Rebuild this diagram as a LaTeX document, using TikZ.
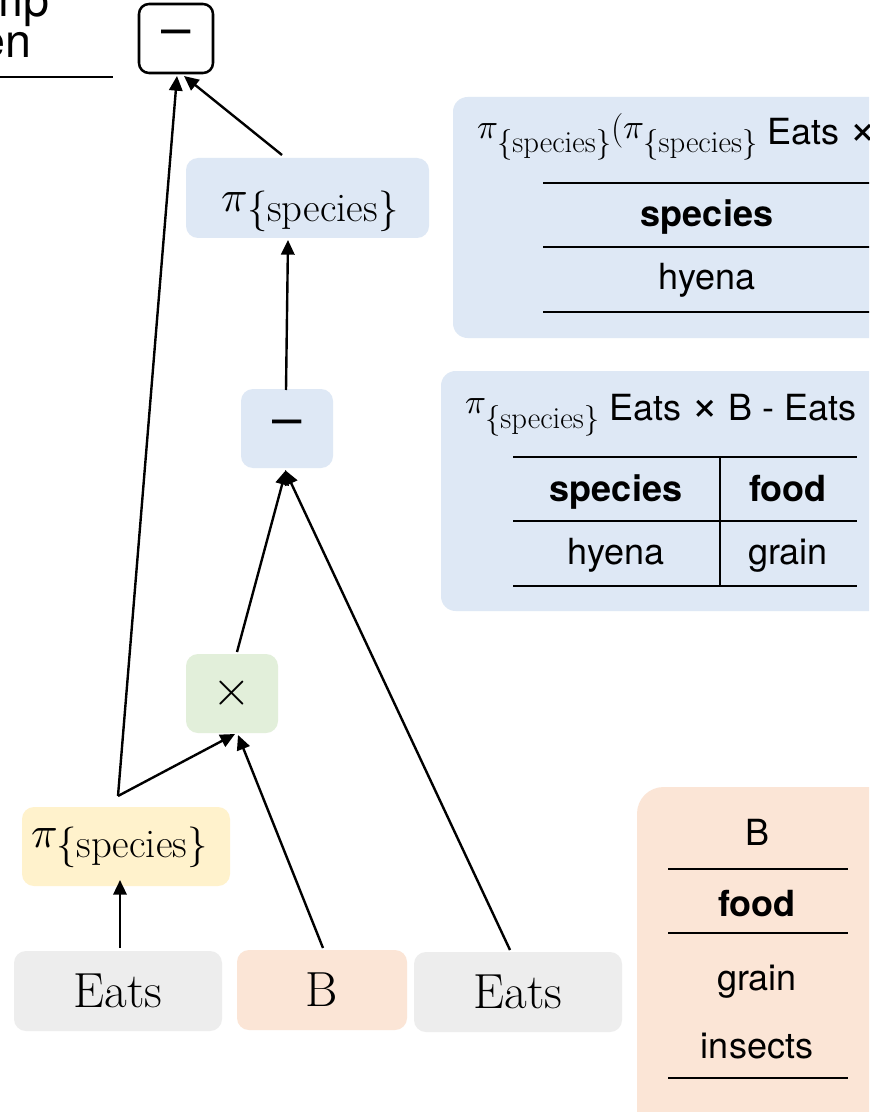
\documentclass[tikz,border=0pt]{standalone}
\usepackage{fontspec}
\newfontfamily\hv{TeX Gyre Heros}
\newfontfamily\lmmath{Latin Modern Math}
\usetikzlibrary{arrows.meta,calc}

\definecolor{opblue}{HTML}{DEE8F5}
\definecolor{opgreen}{HTML}{E2EFDA}
\definecolor{opyellow}{HTML}{FFF2CC}
\definecolor{oppeach}{HTML}{FBE5D6}
\definecolor{opgray}{HTML}{EDEDED}

% projection symbol: pi size, subscript size, pi raise, subscript drop
\newcommand\projop[4]{%
  \raisebox{#3}{\lmmath\fontsize{#1}{#1}\selectfont 𝜋}%
  \raisebox{-#4}{\rmfamily\mdseries\fontsize{#2}{#2}\selectfont\{species\}}}
\newcommand\nodeproj{\projop{33pt}{30.5pt}{0pt}{7.5pt}}
\newcommand\titleproj{\projop{26pt}{23pt}{5pt}{6pt}}
\newcommand\titleparen{\raisebox{4pt}{\rmfamily\fontsize{26pt}{26pt}\selectfont(}}
\newcommand\titletimes{\scalebox{1.3}{×}}
\newcommand\opminus{\resizebox{22pt}{!}{\hv –}}
\newcommand\optimes{\resizebox{29pt}{!}{\lmmath ×}}

\tikzset{
  opnode/.style={rounded corners=9pt, inner sep=0pt, outer sep=0pt},
  edge/.style={line width=1.8pt, -{Triangle[length=11pt,width=10pt]}},
  rule/.style={line width=1.6pt},
  cell/.style={inner sep=0pt, anchor=base, font=\hv\fontsize{27pt}{27pt}\selectfont},
  rel/.style={font=\fontsize{37pt}{37pt}\selectfont},
}

\begin{document}
\begin{tikzpicture}[x=0.75pt,y=-0.75pt]
\clip (0,0) rectangle (869,1112);
\fill[white] (0,0) rectangle (869,1112);

% caption fragment at the upper left
\node[inner sep=0pt, anchor=base east, font=\hv\fontsize{35pt}{35pt}\selectfont] (capa) at (50,17) {mp};
\node[inner sep=0pt, anchor=base east, font=\hv\fontsize{35pt}{35pt}\selectfont] (capb) at (32,58) {en};
\draw[line width=1.5pt] (0,77) -- (113,77);

% intermediate result panels
\fill[opblue, rounded corners=11pt] (453,97) rectangle (900,338);
\fill[opblue, rounded corners=11pt] (441,371) rectangle (900,611);
\fill[oppeach, rounded corners=20pt] (637,787) rectangle (900,1140);

% panel 1: projection of the difference
\node[inner sep=0pt, anchor=base west, font=\hv\fontsize{27pt}{27pt}\selectfont] (t1title) at (477,145)
  {\titleproj\titleparen\titleproj{} Eats \titletimes{} B - Eats)};
\draw[rule] (543,183) -- (871,183);
\draw[rule] (543,247) -- (871,247);
\draw[rule] (543,312) -- (871,312);
\node[cell] (t1h) at (707,227) {\bfseries species};
\node[cell] (t1r) at (707,290) {hyena};

% panel 2: the difference
\node[inner sep=0pt, anchor=base west, font=\hv\fontsize{27pt}{27pt}\selectfont] (t2title) at (465,420)
  {\titleproj{} Eats \titletimes{} B - Eats};
\draw[rule] (513,457) -- (857,457);
\draw[rule] (513,521) -- (857,521);
\draw[rule] (513,586) -- (857,586);
\draw[rule] (720,457) -- (720,586);
\node[cell] (t2h1) at (616,501) {\bfseries species};
\node[cell] (t2h2) at (788,501) {\bfseries food};
\node[cell] (t2r1) at (616,564) {hyena};
\node[cell] (t2r2) at (788,564) {grain};

% panel 3: relation B
\node[cell] (t3title) at (757,845) {B};
\draw[rule] (668,869) -- (848,869);
\draw[rule] (668,933) -- (848,933);
\draw[rule] (668,1078) -- (848,1078);
\node[cell] (t3h) at (757,916) {\bfseries food};
\node[cell] (t3r1) at (757,990) {grain};
\node[cell] (t3r2) at (757,1058) {insects};

% operator tree
\node[opnode, draw, line width=1.9pt, rounded corners=7.5pt, fill=white,
      minimum width=55.5pt, minimum height=51.75pt] (top) at (176,38.5) {\opminus};
\node[opnode, fill=opblue, minimum width=182.25pt, minimum height=60pt,
      text height=21pt, text depth=0pt] (proj1) at (307.5,198) {\nodeproj\kern-4pt};
\node[opnode, fill=opblue, minimum width=69pt, minimum height=59.25pt] (diff) at (287,428.5) {\opminus};
\node[opnode, fill=opgreen, minimum width=69pt, minimum height=59.25pt] (cross) at (232,693.5) {\optimes};
\node[opnode, fill=opyellow, minimum width=156pt, minimum height=59.25pt,
      text height=1pt, text depth=0pt] (proj2) at (126,846.5) {\nodeproj\kern10pt};
\node[opnode, fill=opgray, minimum width=156pt, minimum height=60pt, rel] (eats1) at (118,991) {Eats};
\node[opnode, fill=oppeach, minimum width=127.5pt, minimum height=60pt, rel] (bnode) at (322,990) {B};
\node[opnode, fill=opgray, minimum width=156pt, minimum height=60pt, rel] (eats2) at (518,992) {Eats};

\coordinate (fork) at ($(proj2.north)+(-8,-11)$);

\draw[edge] ($(eats1.north)+(2,-3)$) -- ($(proj2.south)+(-6,-6)$);
\draw[edge] (fork) -- ($(cross.south)+(3,1)$);
\draw[edge] ($(bnode.north)+(1,-2)$) -- ($(cross.south)+(6,2)$);
\draw[edge] ($(cross.north)+(5,-2)$) -- ($(diff.south)+(-1,2)$);
\draw[edge] ($(eats2.north)+(-8,-2)$) -- ($(diff.south)+(-2,2)$);
\draw[edge] ($(diff.north)+(-1,1)$) -- ($(proj1.south)+(-19.5,2)$);
\draw[edge] ($(proj1.north)+(-25.5,-3)$) -- ($(top.south)+(8,3)$);
\draw[edge] (fork) -- ($(top.south)+(1,3)$);
\end{tikzpicture}
\end{document}
